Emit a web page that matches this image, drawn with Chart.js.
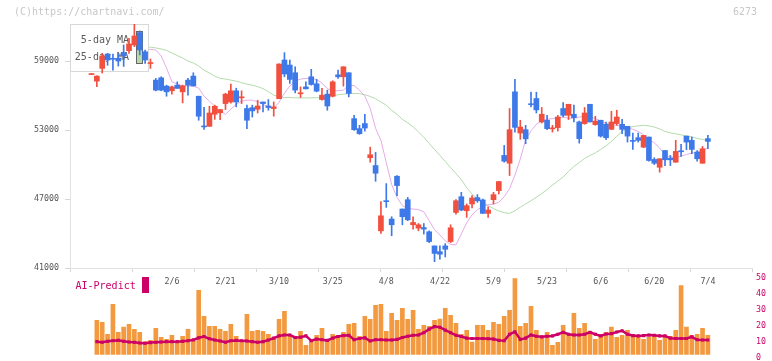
<!DOCTYPE html>
<html>
<head>
<meta charset="utf-8">
<title>6273</title>
<script src="https://cdn.jsdelivr.net/npm/chart.js@4.4.1/dist/chart.umd.min.js"></script>
<style>
  html, body { margin: 0; padding: 0; background: #fff; }
  #wrap { position: relative; width: 772px; height: 361px; overflow: hidden; }
  canvas { position: absolute; left: 0; }
  #lower { top: 268px; }
  #main { top: 0; }
</style>
</head>
<body>
<div id="wrap">
  <canvas id="lower" width="772" height="100"></canvas>
  <canvas id="main" width="772" height="300"></canvas>
</div>
<script>
// trading days, 2025-01-16 .. 2025-07-04
var dates = [
  '1/16','1/17','1/20','1/21','1/22','1/23','1/24','1/27','1/28','1/29','1/30','1/31',
  '2/3','2/4','2/5','2/6','2/7','2/10','2/12','2/13','2/14','2/17','2/18','2/19','2/20','2/21','2/25','2/26','2/27','2/28',
  '3/3','3/4','3/5','3/6','3/7','3/10','3/11','3/12','3/13','3/14','3/17','3/18','3/19','3/21','3/24','3/25','3/26','3/27','3/28','3/31',
  '4/1','4/2','4/3','4/4','4/7','4/8','4/9','4/10','4/11','4/14','4/15','4/16','4/17','4/18','4/21','4/22','4/23','4/24','4/25','4/28','4/30',
  '5/1','5/2','5/7','5/8','5/9','5/12','5/13','5/14','5/15','5/16','5/19','5/20','5/21','5/22','5/23','5/26','5/27','5/28','5/29','5/30',
  '6/2','6/3','6/4','6/5','6/6','6/9','6/10','6/11','6/12','6/13','6/16','6/17','6/18','6/19','6/20','6/23','6/24','6/25','6/26','6/27','6/30',
  '7/1','7/2','7/3','7/4'
];
var dateTicks = ['2/6','2/21','3/10','3/25','4/8','4/22','5/9','5/23','6/6','6/20','7/4'];

var opens = [
  57820,57250,58360,59610,59200,59240,59730,59900,60400,61470,
  59810,58780,57340,57540,56820,56410,56900,56320,57340,57690,
  55940,53320,53320,54370,54500,55300,55440,56410,55800,54870,
  54940,54810,55440,55090,54870,55720,59090,58650,57980,56150,
  56750,57630,57020,55650,56120,55940,57800,57630,57980,53990,
  53120,53560,50590,49910,44230,46800,45260,48980,46130,46940,
  44760,44470,44520,44150,42920,42420,42920,43300,45830,47200,
  45980,46570,47120,46920,45750,46940,47730,50790,50110,56320,
  52740,53030,55250,55740,53700,53850,53100,53210,54870,54280,
  54370,53700,53560,55240,53470,53850,53500,53060,53560,53500,
  53320,52060,52330,51510,52390,50440,49760,51220,50550,50200,
  51160,52470,52100,51080,50110,52250
];
var highs = [
  57880,57720,59670,59670,59610,59610,60400,60980,62230,61620,
  59960,59180,57490,57630,56900,56820,57190,56900,57490,57980,
  55940,54980,55070,55160,54780,56200,56990,56640,56410,55160,
  55160,55590,55440,55650,55440,58760,59730,59090,58500,56750,
  57190,58280,57400,56620,56470,57280,58210,58500,57980,54280,
  53410,54370,51510,51050,46770,48340,45460,49040,46130,47140,
  45460,44870,44870,44230,42920,42920,43120,44760,46940,47580,
  46570,47290,47380,47000,46330,47580,48520,51660,54870,57400,
  53850,53410,56290,56290,54960,54280,53410,54280,55390,55240,
  55160,53780,54960,55240,54200,53850,53700,54630,54720,53930,
  53320,52740,52740,52530,52390,50590,50500,51220,50790,52100,
  51750,52470,52390,51220,51570,52530
];
var lows = [
  57820,56770,57950,58630,58210,58560,58530,59670,60250,59530,
  58800,58360,56410,56410,55940,56120,56620,55360,56030,56820,
  53850,53060,53320,53930,53910,54780,55330,55010,55300,53120,
  54130,54480,54570,54720,54200,55720,57630,57050,56230,55830,
  56580,56900,56320,55590,54720,55880,57490,56820,55880,52970,
  52620,52910,50200,48540,44000,46270,43800,47290,44760,45110,
  44380,44230,43950,43210,41550,41760,41960,43210,45690,45980,
  45400,46220,46710,45750,45400,46570,47440,50200,49040,52820,
  52190,51810,55010,54480,53610,53030,52820,52910,54130,53910,
  53700,51860,53500,53700,53410,52390,52160,53030,53410,52680,
  51950,51310,51950,51460,50290,50000,49330,49910,49910,50200,
  50700,51290,50940,50290,50110,51370
];
var closes = [
  57880,57690,59440,59090,59150,59000,59440,60490,61180,59960,
  59090,58820,56470,56470,56320,56750,56620,56840,56900,56840,
  54200,53270,54480,55070,54780,56120,56410,55440,55850,53850,
  54660,55090,55300,54960,55010,58740,57870,57400,56470,56200,
  56580,56960,56380,56030,55090,57190,57630,58500,56180,53030,
  52680,53170,50850,49240,45540,46770,44760,48170,45460,45190,
  44960,44760,44380,43300,42270,42200,42630,44500,46850,46040,
  46420,47090,46850,45750,46040,47380,48520,50290,53030,53230,
  53260,52230,55200,54750,54370,53120,53140,54130,54280,55240,
  54080,52250,54480,53700,53780,52470,52330,53700,54130,53060,
  52470,52010,52100,52530,50350,50110,50500,50410,50410,51140,
  51110,51950,51310,50500,51370,52010
];
var ma5 = [
  58740,58480,58130,58210,58560,58830,59090,59350,59700,59960,
  60050,60010,59960,59440,58390,57210,56990,56860,56820,56820,
  56640,55940,55510,55070,54630,54370,54810,55240,55510,55590,
  55590,55460,55240,55020,54890,55420,56200,56820,57250,57430,
  57490,57470,57400,57080,56600,56410,56420,56470,56900,56860,
  56470,55940,54890,53150,52100,50170,48250,47140,46420,46160,
  46130,46070,45890,45110,44320,43880,43360,43050,43010,43970,
  44930,45630,46070,46330,46500,46550,46720,47200,47900,49080,
  50480,52140,52930,53500,53800,53930,53990,54060,54130,54020,
  54020,54130,54170,54190,53980,53800,53580,53450,53410,53320,
  53190,53060,52880,52580,52180,51880,51440,50830,50660,50590,
  50730,50870,50990,51090,51220,51440
];
var ma25 = [
  60660,60620,60570,60530,60490,60440,60400,60350,60310,60270,
  60220,60200,60140,60050,59920,59700,59480,59260,59000,58830,
  58560,58210,57950,57690,57490,57430,57340,57250,57120,56990,
  56900,56770,56600,56340,56030,55900,55830,55820,55800,55790,
  55790,55800,55810,55800,55790,55940,56070,56120,56160,56180,
  56160,56070,55920,55720,55440,55160,54720,54370,53930,53630,
  53280,52840,52360,51840,51310,50790,50260,49740,49210,48690,
  47990,47420,47030,46720,46420,46160,45960,45810,45750,45980,
  46290,46570,46850,47160,47470,47820,48210,48560,48910,49390,
  49830,50170,50520,50790,51010,51310,51620,52010,52450,52880,
  53190,53290,53360,53410,53360,53260,53100,52880,52750,52670,
  52580,52490,52400,52270,52180,52100
];
var volume = [
  null,21.2,20,12.5,31.2,13.8,17,18.8,15.6,13.8,
  7.9,8.8,16.3,10.6,9.4,11.9,7.9,11.3,15.6,9.4,
  40,23.8,17.5,17.5,15.6,14.4,18.8,11.3,8.8,25,
  14.4,15,14.4,12.5,10.6,21.9,26.9,11.3,11.3,14.4,
  5.6,8.8,11.9,16.3,8.8,12.5,11.9,13.8,18.8,19.4,
  11.3,23.8,21.9,30.6,31.2,14.4,25.6,21.2,28.8,21.9,
  27.5,15.6,18.1,17.5,21.2,22,28.8,24.4,19.4,12.5,
  15,7.7,18.1,18.1,15,20,18.8,23.8,27.5,47.5,
  17.5,19.4,30,15,11.3,13.8,5.6,7.5,18.1,11.9,
  25.6,16.3,19.4,14.4,9.4,11.9,13.8,17,10.6,11.9,
  15,12.5,10.6,9.4,10.6,11.9,8.8,10.6,11.3,15,
  43,17,11.9,12.5,16.3,11.9
];
var aiPredict = [
  null,10.4,10.0,10.6,11.0,11.2,10.6,10.2,10.0,9.6,
  9.4,9.8,10.0,10.2,10.4,10.4,10.4,10.6,11.0,11.5,
  12.8,13.6,12.2,11.4,10.8,10.0,11.0,11.2,11.0,10.8,
  10.4,10.0,10.4,11.4,12.6,14.0,14.6,14.6,13.0,13.2,
  14.0,11.0,12.0,11.6,11.2,12.6,13.6,14.2,14.4,11.6,
  12.4,12.8,10.8,11.6,11.6,11.4,11.4,11.8,13.0,13.8,
  14.4,14.6,16.0,18.2,19.8,19.4,17.6,16.0,14.4,13.6,
  12.6,12.4,12.4,12.4,12.2,12.0,11.2,11.0,15.0,16.6,
  11.8,12.6,14.6,13.8,13.4,13.8,14.0,15.0,16.2,15.0,
  14.6,14.6,15.0,16.2,15.0,14.0,15.2,15.4,16.4,17.2,
  15.0,14.2,14.0,14.2,14.6,14.4,14.0,14.0,12.6,12.4,
  12.4,12.4,13.4,11.6,11.4,11.4
];
var priceTicks = [41000, 47000, 53000, 59000];
var aiTicks = [0, 10, 20, 30, 40, 50];

var RED = '#f2503f', BLUE = '#3d79e9', PINK = '#e7aaea', GREEN = '#b3dbab';
var MAGENTA = '#cc0066', ORANGE = '#f39a40', LABEL = '#555555';
var MONO = '"DejaVu Sans Mono", monospace';
Chart.defaults.font.family = MONO;

// candle 0 sits ~21px right of the plot edge, 5.36px per trading day
var X_MIN = -4.01, X_MAX = 123.23;
var gridTicks = [];
for (var k = 0; k <= 11; k++) gridTicks.push(X_MIN + k * (X_MAX - X_MIN) / 11);

var candleColor = closes.map(function(c, i) { return c >= opens[i] ? RED : BLUE; });

function pts(arr) {
  var out = [];
  arr.forEach(function(v, i) { if (v !== null) out.push({ x: i, y: v }); });
  return out;
}
function plain(v) { return String(v); }

var maLegend = {
  id: 'maLegend',
  afterDatasetDraw: function(chart, args) {
    if (args.index !== 0) return;
    var ctx = chart.ctx, a = chart.chartArea;
    var ds = chart.data.datasets;
    ctx.save();
    ctx.fillStyle = '#ffffff';
    ctx.fillRect(a.left + 0.5, a.top + 0.5, 78, 47);
    ctx.strokeStyle = '#d8d8d8';
    ctx.lineWidth = 1;
    ctx.strokeRect(a.left + 0.5, a.top + 0.5, 78, 47);
    ctx.font = '10px ' + MONO;
    ctx.fillStyle = '#5a5a5a';
    ctx.textAlign = 'right';
    ctx.textBaseline = 'middle';
    ctx.fillText(ds[0].label, 129, 40);
    ctx.fillText(ds[1].label, 129, 57);
    ctx.fillStyle = ds[0].borderColor;
    ctx.fillRect(136.5, 31.5, 6, 16);
    ctx.fillStyle = ds[1].borderColor;
    ctx.fillRect(136.5, 47.5, 6, 16);
    ctx.strokeStyle = '#666666';
    ctx.strokeRect(136.5, 31.5, 6, 16);
    ctx.strokeRect(136.5, 47.5, 6, 16);
    ctx.restore();
  },
  afterDraw: function(chart) {
    var ctx = chart.ctx;
    ctx.save();
    ctx.font = '10px ' + MONO;
    ctx.fillStyle = '#c8c8c8';
    ctx.textBaseline = 'middle';
    ctx.textAlign = 'left';
    ctx.fillText('(C)https://chartnavi.com/', 14, 12);
    ctx.textAlign = 'right';
    ctx.fillText('6273', 757, 12);
    ctx.restore();
  }
};

new Chart(document.getElementById('main'), {
  data: {
    datasets: [
      { type: 'line', label: '5-day MA', data: pts(ma5), borderColor: PINK, borderWidth: 1,
        pointRadius: 0, tension: 0, order: 5 },
      { type: 'line', label: '25-day MA', data: pts(ma25), borderColor: GREEN, borderWidth: 1,
        pointRadius: 0, tension: 0, order: 6 },
      { type: 'bar', label: 'range', data: lows.map(function(l, i) { return { x: i, y: [l, highs[i]] }; }),
        backgroundColor: candleColor, barThickness: 1, grouped: false, minBarLength: 1, order: 2 },
      { type: 'bar', label: 'body', data: opens.map(function(o, i) { return { x: i, y: [o, closes[i]] }; }),
        backgroundColor: candleColor, barThickness: 5, grouped: false, minBarLength: 1, order: 1 }
    ]
  },
  options: {
    responsive: false,
    devicePixelRatio: 1,
    animation: false,
    layout: { padding: { left: 0, right: 20, top: 24, bottom: 0 } },
    plugins: { legend: { display: false }, tooltip: { enabled: false } },
    scales: {
      x: {
        type: 'linear', min: X_MIN, max: X_MAX, offset: false, weight: 0,
        afterBuildTicks: function(s) { s.ticks = gridTicks.map(function(v) { return { value: v }; }); },
        afterFit: function(s) { s.height = 4; },
        grid: { drawOnChartArea: false, tickLength: 4, color: '#d6d6d6', offset: false },
        border: { color: '#e2e2e2' },
        ticks: { display: false }
      },
      xd: {
        type: 'linear', position: 'bottom', min: X_MIN, max: X_MAX, offset: false, weight: 1,
        afterBuildTicks: function(s) { s.ticks = dateTicks.map(function(d) { return { value: dates.indexOf(d) }; }); },
        afterFit: function(s) { s.height = 28; },
        grid: { display: false, drawTicks: false },
        border: { display: false },
        ticks: { callback: function(v) { return dates[v]; }, padding: 5, autoSkip: false, maxRotation: 0,
                 color: LABEL, font: { size: 8.3 } }
      },
      y: {
        min: 41000, max: 62220,
        afterBuildTicks: function(s) { s.ticks = priceTicks.map(function(v) { return { value: v }; }); },
        afterFit: function(s) { s.width = 70; },
        grid: { drawOnChartArea: false, tickLength: 5, color: '#d6d6d6' },
        border: { color: '#e2e2e2' },
        ticks: { callback: plain, padding: 6, color: LABEL, font: { size: 8.3 } }
      }
    }
  },
  plugins: [maLegend]
});

var aiLabel = {
  id: 'aiLabel',
  afterDraw: function(chart) {
    var ctx = chart.ctx;
    ctx.save();
    ctx.font = '10px ' + MONO;
    ctx.fillStyle = MAGENTA;
    ctx.textAlign = 'left';
    ctx.textBaseline = 'middle';
    ctx.fillText(chart.data.datasets[0].label, 75.5, 18);
    ctx.fillRect(142, 9, 7, 16);
    ctx.restore();
  }
};

new Chart(document.getElementById('lower'), {
  data: {
    datasets: [
      { type: 'line', label: 'AI-Predict', data: pts(aiPredict), yAxisID: 'y',
        borderColor: MAGENTA, borderWidth: 2.5, tension: 0,
        pointStyle: 'rect', pointRadius: 2.2, pointBackgroundColor: MAGENTA, pointBorderWidth: 0, order: 0 },
      { type: 'bar', label: 'Volume', data: pts(volume), yAxisID: 'yv',
        backgroundColor: ORANGE, barThickness: 4, order: 1 }
    ]
  },
  options: {
    responsive: false,
    devicePixelRatio: 1,
    animation: false,
    layout: { padding: { left: 70, right: 0, top: 10.3, bottom: 9.7 } },
    plugins: { legend: { display: false }, tooltip: { enabled: false } },
    scales: {
      x: { type: 'linear', min: X_MIN, max: X_MAX, offset: false, display: false },
      y: {
        position: 'right', min: 0, max: 50,
        afterBuildTicks: function(s) { s.ticks = aiTicks.map(function(v) { return { value: v }; }); },
        afterFit: function(s) { s.width = 20; },
        grid: { display: false, drawTicks: false },
        border: { display: false },
        ticks: { callback: plain, padding: 4, color: MAGENTA, font: { size: 8.3 } }
      },
      yv: { display: false, min: -2.5, max: 47.5 }
    }
  },
  plugins: [aiLabel]
});
</script>
</body>
</html>
